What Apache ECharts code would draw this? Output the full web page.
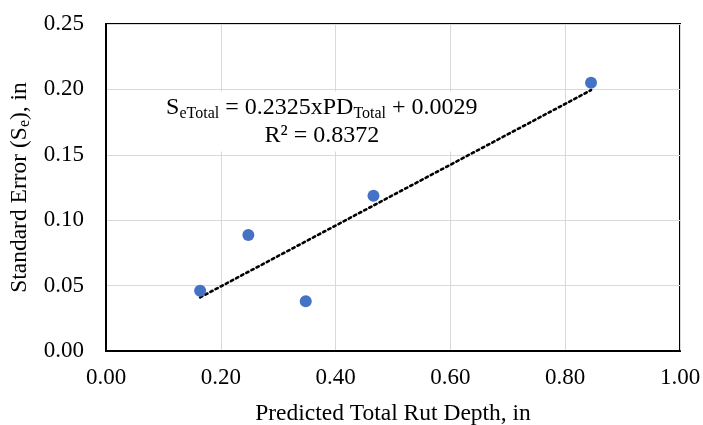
<!DOCTYPE html>
<html>
<head>
<meta charset="utf-8">
<script src="https://cdn.jsdelivr.net/npm/echarts@6/dist/echarts.min.js"></script>
<style>html,body{margin:0;padding:0;background:#fff}#c{width:703px;height:425px}</style>
</head>
<body>
<div id="c"></div>
<script>
// Data
const predictedRut = [0.164, 0.248, 0.348, 0.466, 0.845];
const standardError = [0.046, 0.0887, 0.038, 0.1187, 0.205];
const trendX = [0.164, 0.845];
const trendY = [0.041, 0.1994];
const xTicks = ['0.00', '0.20', '0.40', '0.60', '0.80', '1.00'];
const yTicks = ['0.00', '0.05', '0.10', '0.15', '0.20', '0.25'];

const FONT = '"Liberation Serif", "Times New Roman", serif';
const chart = echarts.init(document.getElementById('c'), null, {renderer: 'canvas'});

const points = predictedRut.map((x, i) => [x, standardError[i]]);
const trend = trendX.map((x, i) => [x, trendY[i]]);

chart.setOption({
  animation: false,
  backgroundColor: '#fff',
  grid: {left: 106, top: 24, right: 23, bottom: 74, outerBoundsMode: 'none', containLabel: false,
    show: true, borderColor: '#000', borderWidth: 2, backgroundColor: 'transparent'},
  xAxis: {
    type: 'value', min: 0, max: 1, interval: 0.2,
    axisLine: {show: true, lineStyle: {color: '#000', width: 2}},
    axisTick: {show: false},
    splitLine: {show: true, lineStyle: {color: '#d9d9d9', width: 1}},
    axisLabel: {fontFamily: FONT, fontSize: 23, color: '#000', margin: 15,
      formatter: (v) => xTicks[Math.round(v / 0.2)]},
    name: 'Predicted Total Rut Depth, in', nameLocation: 'middle', nameGap: 51,
    nameTextStyle: {fontFamily: FONT, fontSize: 23.5, color: '#000'}
  },
  yAxis: {
    type: 'value', min: 0, max: 0.25, interval: 0.05,
    axisLine: {show: true, lineStyle: {color: '#000', width: 2}},
    axisTick: {show: false},
    splitLine: {show: true, lineStyle: {color: '#d9d9d9', width: 1}},
    axisLabel: {fontFamily: FONT, fontSize: 23, color: '#000', margin: 22,
      formatter: (v) => yTicks[Math.round(v / 0.05)]},
    name: '{m|Standard Error (S}{s|e}{m|), in}', nameLocation: 'middle', nameGap: 64,
    nameTextStyle: {fontFamily: FONT, fontSize: 23.5, color: '#000',
      rich: {
        m: {fontFamily: FONT, fontSize: 23.5, color: '#000', lineHeight: 27},
        s: {fontFamily: FONT, fontSize: 16, color: '#000', lineHeight: 16, verticalAlign: 'bottom'}
      }}
  },
  series: [
    {
      type: 'line', data: trend, symbol: 'none', z: 5,
      lineStyle: {color: '#000', width: 2.6, type: [2.5, 3.3], cap: 'round'}
    },
    {
      type: 'scatter', data: points, symbol: 'circle', symbolSize: 12, z: 6,
      itemStyle: {color: '#4472C4', opacity: 1}
    }
  ]
});

const anchor = chart.convertToPixel({gridIndex: 0}, [0.376, 0.1755]);
chart.setOption({
  graphic: [{
    type: 'text', x: anchor[0], y: anchor[1], z: 1,
    style: {
      text: '{m|S}{s|eTotal}{m| = 0.2325xPD}{s|Total}{m| + 0.0029}\n{m|R² = 0.8372}',
      align: 'center', verticalAlign: 'middle',
      backgroundColor: '#fff', padding: [2, 6, 2, 6],
      rich: {
        m: {fontFamily: FONT, fontSize: 24, fill: '#000', lineHeight: 28},
        s: {fontFamily: FONT, fontSize: 16, fill: '#000', lineHeight: 16, verticalAlign: 'bottom'}
      }
    }
  }]
});
</script>
</body>
</html>
